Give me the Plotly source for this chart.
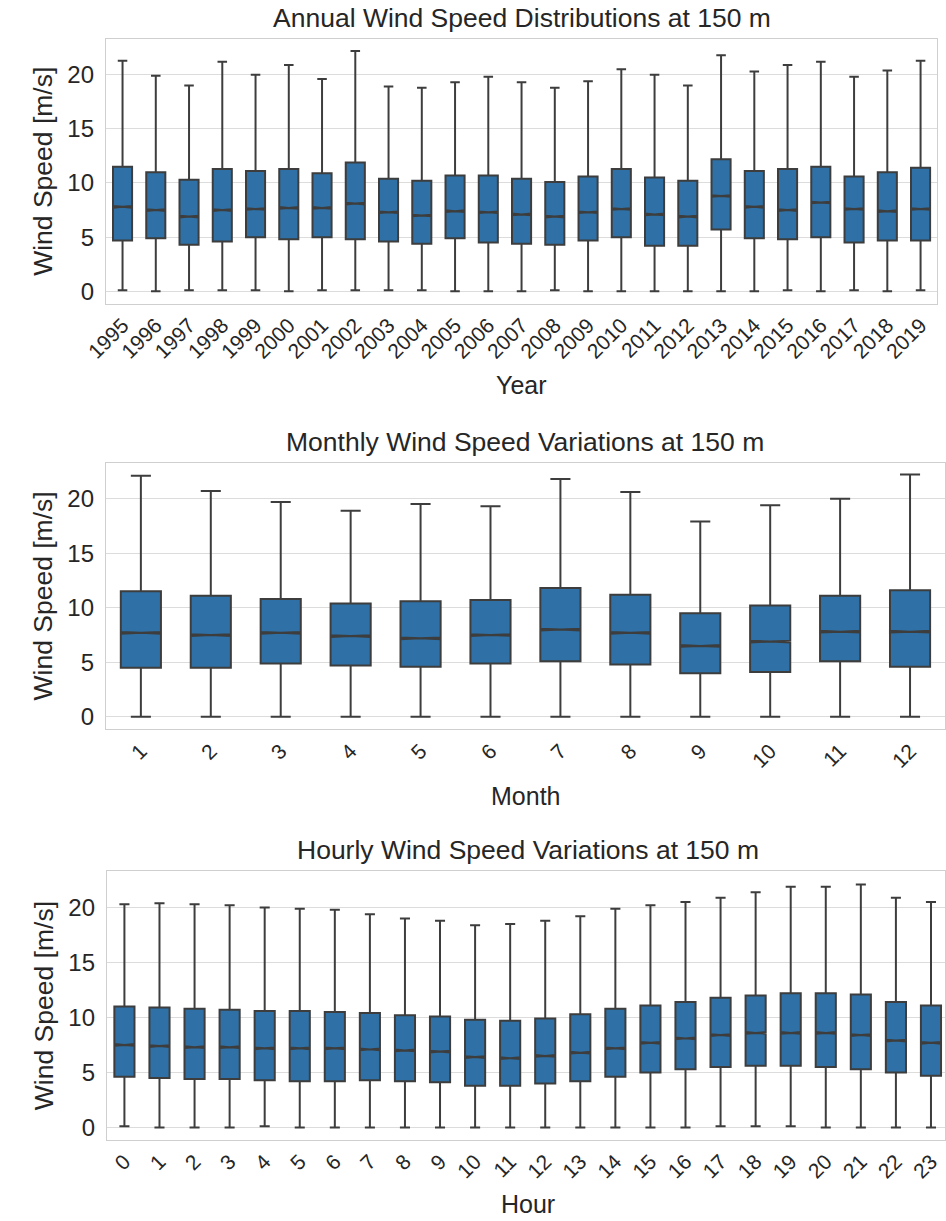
import plotly.graph_objects as go

# ---- Annual statistics (m/s) ----
years = [str(y) for y in range(1995, 2020)]
year_upper = [21.3, 19.9, 19.0, 21.2, 20.0, 20.9, 19.6, 22.2, 18.9, 18.8, 19.3, 19.8, 19.3,
              18.8, 19.4, 20.5, 20.0, 19.0, 21.8, 20.3, 20.9, 21.2, 19.8, 20.4, 21.3]
year_q3 = [11.5, 11.0, 10.3, 11.3, 11.1, 11.3, 10.9, 11.9, 10.4, 10.2, 10.7, 10.7, 10.4,
           10.1, 10.6, 11.3, 10.5, 10.2, 12.2, 11.1, 11.3, 11.5, 10.6, 11.0, 11.4]
year_median = [7.8, 7.5, 6.9, 7.5, 7.6, 7.7, 7.7, 8.1, 7.3, 7.0, 7.4, 7.3, 7.1,
               6.9, 7.3, 7.6, 7.1, 6.9, 8.8, 7.8, 7.5, 8.2, 7.6, 7.4, 7.6]
year_q1 = [4.7, 4.9, 4.3, 4.6, 5.0, 4.8, 5.0, 4.8, 4.6, 4.4, 4.9, 4.5, 4.4,
           4.3, 4.7, 5.0, 4.2, 4.2, 5.7, 4.9, 4.8, 5.0, 4.5, 4.7, 4.7]
year_lower = [0.1, 0.0, 0.1, 0.1, 0.1, 0.0, 0.1, 0.1, 0.1, 0.1, 0.0, 0.0, 0.0,
              0.1, 0.0, 0.0, 0.0, 0.0, 0.0, 0.0, 0.1, 0.0, 0.1, 0.0, 0.1]

# ---- Monthly statistics (m/s) ----
months = [str(m) for m in range(1, 13)]
month_upper = [22.1, 20.7, 19.7, 18.9, 19.5, 19.3, 21.8, 20.6, 17.9, 19.4, 20.0, 22.2]
month_q3 = [11.5, 11.1, 10.8, 10.4, 10.6, 10.7, 11.8, 11.2, 9.5, 10.2, 11.1, 11.6]
month_median = [7.7, 7.5, 7.7, 7.4, 7.2, 7.5, 8.0, 7.7, 6.5, 6.9, 7.8, 7.8]
month_q1 = [4.5, 4.5, 4.9, 4.7, 4.6, 4.9, 5.1, 4.8, 4.0, 4.1, 5.1, 4.6]
month_lower = [0.0] * 12

# ---- Hourly statistics (m/s) ----
hours = [str(h) for h in range(24)]
hour_upper = [20.3, 20.4, 20.3, 20.2, 20.0, 19.9, 19.8, 19.4, 19.0, 18.8, 18.4, 18.5,
              18.8, 19.2, 19.9, 20.2, 20.5, 20.9, 21.4, 21.9, 21.9, 22.1, 20.9, 20.5]
hour_q3 = [11.0, 10.9, 10.8, 10.7, 10.6, 10.6, 10.5, 10.4, 10.2, 10.1, 9.8, 9.7,
           9.9, 10.3, 10.8, 11.1, 11.4, 11.8, 12.0, 12.2, 12.2, 12.1, 11.4, 11.1]
hour_median = [7.5, 7.4, 7.3, 7.3, 7.2, 7.2, 7.2, 7.1, 7.0, 6.9, 6.4, 6.3,
               6.5, 6.8, 7.2, 7.7, 8.1, 8.4, 8.6, 8.6, 8.6, 8.4, 7.9, 7.7]
hour_q1 = [4.6, 4.5, 4.4, 4.4, 4.3, 4.2, 4.2, 4.3, 4.2, 4.1, 3.8, 3.8,
           4.0, 4.2, 4.6, 5.0, 5.3, 5.5, 5.6, 5.6, 5.5, 5.3, 5.0, 4.7]
hour_lower = [0.1, 0.0, 0.0, 0.0, 0.1, 0.0, 0.0, 0.0, 0.0, 0.0, 0.0, 0.0,
              0.0, 0.0, 0.0, 0.0, 0.0, 0.1, 0.1, 0.1, 0.0, 0.0, 0.0, 0.0]

FILL = "#2f71a6"
EDGE = "#3d3d3d"
GRID = "#dcdcdc"
FONT = "Liberation Sans, Arial, sans-serif"
TEXT = "#262626"

W, H = 946, 1221

# pixel boxes of each panel: (left, right, top, bottom)
panels = [
    dict(cats=years, up=year_upper, q3=year_q3, med=year_median, q1=year_q1, lo=year_lower,
         title="Annual Wind Speed Distributions at 150 m", xlabel="Year",
         box=(86, 938, 39, 304), xlab_y=385),
    dict(cats=months, up=month_upper, q3=month_q3, med=month_median, q1=month_q1, lo=month_lower,
         title="Monthly Wind Speed Variations at 150 m", xlabel="Month",
         box=(86, 946, 463, 730), xlab_y=797),
    dict(cats=hours, up=hour_upper, q3=hour_q3, med=hour_median, q1=hour_q1, lo=hour_lower,
         title="Hourly Wind Speed Variations at 150 m", xlabel="Hour",
         box=(87, 946, 872, 1141), xlab_y=1205),
]

fig = go.Figure()
annotations = []

for i, p in enumerate(panels, start=1):
    sfx = "" if i == 1 else str(i)
    n = len(p["cats"])
    fig.add_trace(go.Box(
        x=p["cats"], q1=p["q1"], median=p["med"], q3=p["q3"],
        lowerfence=p["lo"], upperfence=p["up"],
        notched=True, notchspan=[0.08] * n, notchwidth=0.5,
        fillcolor=FILL, line=dict(color=EDGE, width=2),
        whiskerwidth=0.5, boxpoints=False, showlegend=False, hoverinfo="skip",
        xaxis="x" + sfx, yaxis="y" + sfx,
    ))
    l, r, t, b = p["box"]
    xdom = [l / W, r / W]
    ydom = [1 - b / H, 1 - t / H]
    xr = [-0.5, n - 0.5]
    if i == 3:
        xr = [-0.5, n - 0.6]
    fig.update_layout(**{
        "xaxis" + sfx: dict(
            domain=xdom, anchor="y" + sfx, type="category", range=xr,
            tickangle=-45, showgrid=False, showline=True, mirror=True,
            linecolor="#cfcfcf", linewidth=1.2, ticks="",
            tickfont=dict(size=21, color=TEXT, family=FONT), zeroline=False,
        ),
        "yaxis" + sfx: dict(
            domain=ydom, anchor="x" + sfx, range=[-1.15, 23.3],
            tickvals=[0, 5, 10, 15, 20], showgrid=True, gridcolor=GRID, gridwidth=1.2,
            showline=True, mirror=True, linecolor="#cfcfcf", linewidth=1.2,
            ticks="", ticklabelstandoff=6, zeroline=False,
            tickfont=dict(size=24, color=TEXT, family=FONT),
        ),
    })
    cx = (l + r) / 2 / W
    if i == 3:
        cx = (87 + 950) / 2 / W
    annotations.append(dict(
        text=p["title"], x=cx, y=1 - (t - 21) / H, xref="paper", yref="paper",
        showarrow=False, font=dict(size=26.5, color=TEXT, family=FONT),
        xanchor="center", yanchor="middle",
    ))
    annotations.append(dict(
        text=p["xlabel"], x=(l + r) / 2 / W if i != 3 else cx, y=1 - p["xlab_y"] / H,
        xref="paper", yref="paper", showarrow=False,
        font=dict(size=25, color=TEXT, family=FONT), xanchor="center", yanchor="middle",
    ))
    annotations.append(dict(
        text="Wind Speed [m/s]", x=22 / W, y=1 - (t + b) / 2 / H,
        xref="paper", yref="paper", showarrow=False, textangle=-90,
        font=dict(size=26.5, color=TEXT, family=FONT), xanchor="center", yanchor="middle",
    ))

fig.update_layout(
    width=W, height=H, margin=dict(l=0, r=0, t=0, b=0),
    paper_bgcolor="white", plot_bgcolor="white",
    boxgap=0.18, annotations=annotations,
    font=dict(family=FONT, color=TEXT),
)

fig.write_html("out.html")
